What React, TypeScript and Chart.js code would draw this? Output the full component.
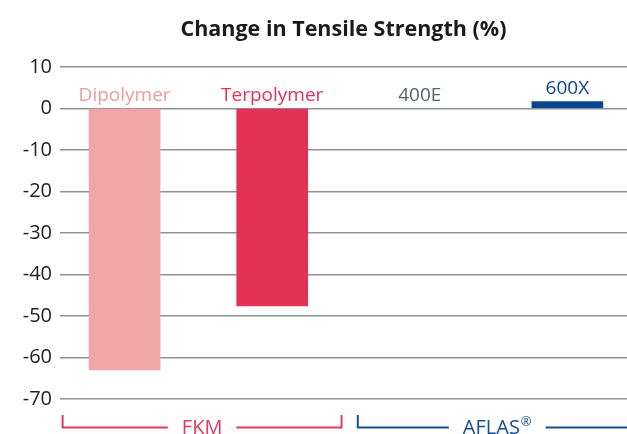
import React, { useEffect, useRef } from "react";
import { Chart, registerables } from "chart.js";

Chart.register(...registerables);

const categories = ["Dipolymer", "Terpolymer", "400E", "600X"];
const values = [-63, -47.6, 0, 1.6];
const barColors = ["#F2A6A6", "#E33256", "rgba(0,0,0,0)", "#0B468C"];
const labelColors = ["#EE9C9C", "#E33256", "#56636B", "#0B468C"];
const groupLabels = ["FKM", "AFLAS"];
const groupMarks = ["", "®"];
const groupMembers = [[0, 1], [2, 3]];
const groupColors = ["#E23A5E", "#174E8E"];
const yTicks = [10, 0, -10, -20, -30, -40, -50, -60, -70];
const titleText = "Change in Tensile Strength (%)";

const FONT = "'Open Sans', 'Noto Sans', sans-serif";

const labelPlugin = {
  id: "barLabels",
  afterDatasetsDraw(chart: any) {
    const { ctx, scales } = chart;
    const xs = scales.x;
    const ys = scales.y;
    ctx.save();
    ctx.font = `19px ${FONT}`;
    ctx.textAlign = "center";
    ctx.textBaseline = "alphabetic";
    categories.forEach((c, i) => {
      const x = xs.getPixelForValue(i);
      const y = ys.getPixelForValue(Math.max(0, values[i]));
      ctx.fillStyle = labelColors[i];
      ctx.fillText(c, x, y - 7.5);
    });
    ctx.restore();
  },
};

const bracketPlugin = {
  id: "brackets",
  afterDraw(chart: any) {
    const { ctx, scales, chartArea } = chart;
    const xs = scales.x;
    const lineY = chartArea.bottom + 28.5;
    const topY = chartArea.bottom + 16;
    const baseY = chartArea.bottom + 34.5;
    ctx.save();
    ctx.lineWidth = 2;
    ctx.textBaseline = "alphabetic";
    ctx.textAlign = "left";
    groupMembers.forEach((m, gi) => {
      const first = m[0];
      const last = m[m.length - 1];
      const left = xs.getPixelForValue(first - 0.42);
      const right = xs.getPixelForValue(last + 0.47);
      const cx = (left + right) / 2;
      const label = groupLabels[gi];
      const mark = groupMarks[gi];
      ctx.font = `20px ${FONT}`;
      const tw1 = ctx.measureText(label).width;
      ctx.font = `13px ${FONT}`;
      const tw2 = mark ? ctx.measureText(mark).width + 1 : 0;
      const tw = tw1 + tw2;
      const gap = 14;
      ctx.strokeStyle = groupColors[gi];
      ctx.fillStyle = groupColors[gi];
      ctx.beginPath();
      ctx.moveTo(left, topY);
      ctx.lineTo(left, lineY);
      ctx.lineTo(cx - tw / 2 - gap, lineY);
      ctx.moveTo(cx + tw / 2 + gap, lineY);
      ctx.lineTo(right, lineY);
      ctx.lineTo(right, topY);
      ctx.stroke();
      const tx = cx - tw / 2;
      ctx.font = `20px ${FONT}`;
      ctx.fillText(label, tx, baseY);
      if (mark) {
        ctx.font = `13px ${FONT}`;
        ctx.fillText(mark, tx + tw1 + 1, baseY - 8);
      }
    });
    ctx.restore();
  },
};

export default function App() {
  const ref = useRef<HTMLCanvasElement | null>(null);
  useEffect(() => {
    document.body.style.margin = "0";
    const canvas = ref.current!;
    const chart = new Chart(canvas, {
      type: "bar",
      data: {
        datasets: [
          {
            data: values.map((v, i) => ({ x: i, y: v })),
            backgroundColor: barColors,
            borderWidth: 0,
            barThickness: 71,
          },
        ],
      },
      options: {
        animation: false,
        responsive: false,
        maintainAspectRatio: false,
        layout: { padding: { left: 12, right: 0, top: 0, bottom: 35 } },
        plugins: {
          legend: { display: false },
          tooltip: { enabled: false },
          title: {
            display: true,
            text: titleText,
            color: "#1a1a1a",
            font: { family: FONT, size: 21.5, weight: "bold" },
            padding: { top: 16.5, bottom: 24.5 },
            fullSize: false,
          },
        },
        scales: {
          x: {
            type: "linear",
            offset: false,
            min: -0.4377,
            max: 3.404,
            display: false,
            grid: { display: false, offset: false },
          },
          y: {
            min: -70,
            max: 10,
            afterBuildTicks: (axis: any) => {
              axis.ticks = yTicks.map((v) => ({ value: v }));
            },
            afterFit: (axis: any) => {
              axis.width = 48;
            },
            border: { display: false },
            grid: { color: "#89939A", lineWidth: 1.5, drawTicks: false },
            ticks: {
              color: "#222222",
              padding: 8,
              font: { family: FONT, size: 20 },
            },
          },
        },
      },
      plugins: [labelPlugin, bracketPlugin],
    });
    return () => chart.destroy();
  }, []);
  return (
    <div style={{ width: 627, height: 434, overflow: "hidden" }}>
      <canvas ref={ref} width={627} height={434} style={{ display: "block", width: 627, height: 434 }} />
    </div>
  );
}
